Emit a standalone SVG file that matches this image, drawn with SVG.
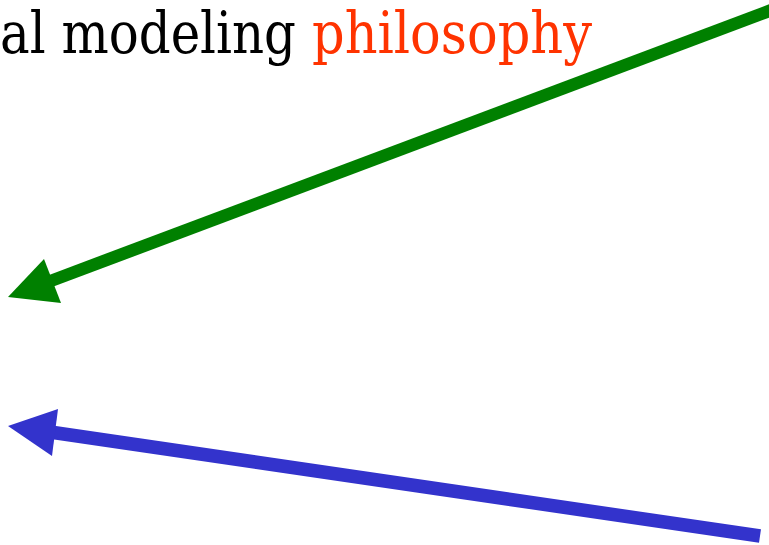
<svg xmlns="http://www.w3.org/2000/svg" width="769" height="545" viewBox="0 0 769 545">
<style>
.t{font-family:"DejaVu Serif","Liberation Serif",serif;font-size:58px}
.g{stroke:#008000;stroke-width:12.5;fill:none}
.b{stroke:#3333CC;stroke-width:13.5;fill:none}
</style>
<rect width="769" height="545" fill="#fff"/>
<g id="title">
<text class="t" x="0" y="53" fill="#000" textLength="296" lengthAdjust="spacingAndGlyphs">al modeling</text>
<text class="t" x="312" y="53" fill="#FF3300" textLength="280" lengthAdjust="spacingAndGlyphs">philosophy</text>
</g>
<g id="connectors">
<line class="g" x1="800" y1="-0.7" x2="48" y2="282"/>
<polygon fill="#008000" points="8,297 44,259 61,303"/>
<line class="b" x1="760" y1="536" x2="50" y2="432"/>
<polygon fill="#3333CC" points="8,426 58,409 52,456"/>
</g>
</svg>
